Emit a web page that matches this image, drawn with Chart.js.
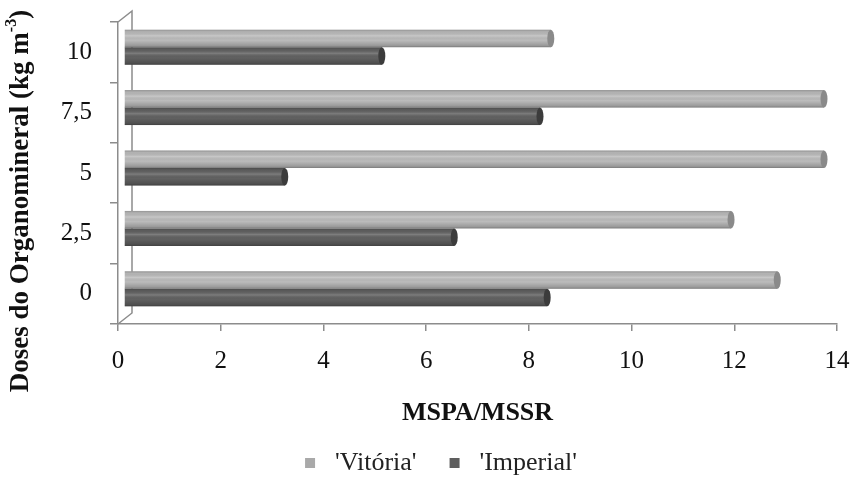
<!DOCTYPE html>
<html lang="pt">
<head>
<meta charset="UTF-8">
<title>MSPA/MSSR</title>
<script src="https://cdn.jsdelivr.net/npm/chart.js"></script>
<style>
  body { margin: 0; background: #fff; }
  #wrap { width: 853px; height: 477px; }
</style>
</head>
<body>
<div id="wrap"><canvas id="grafico" width="853" height="477"></canvas></div>
<script>
// doses de cima para baixo, como no gráfico
const doses = ['10', '7,5', '5', '2,5', '0'];
const vitoria = [8.31, 13.63, 13.63, 11.82, 12.72];
const imperial = [5.02, 8.10, 3.13, 6.43, 8.24];
const xMin = 0, xMax = 14, xStep = 2;
const tituloY = ['Doses do Organomineral (kg m', '-3', ')'];

const fonte = 'Liberation Serif';
const corVitoria = '#bcbcbc', corImperial = '#616161';

// quadradinho da legenda com folga à esquerda
function marcador(cor) {
  const c = document.createElement('canvas');
  c.width = 32; c.height = 10;
  const g = c.getContext('2d');
  g.fillStyle = cor;
  g.fillRect(15, 0, 10, 10);
  return c;
}
const marcadores = [marcador('#a9a9a9'), marcador('#5e5e5e')];

// parede de fundo + aspecto de cilindro
const efeito3d = {
  id: 'efeito3d',
  beforeDatasetsDraw(chart) {
    const ctx = chart.ctx, a = chart.chartArea;
    ctx.save();
    ctx.strokeStyle = '#8c8c8c';
    ctx.lineWidth = 1.5;
    ctx.beginPath();
    ctx.moveTo(a.left, a.top);
    ctx.lineTo(a.left + 14, a.top - 11);
    ctx.lineTo(a.left + 14, a.bottom - 11);
    ctx.lineTo(a.left, a.bottom);
    ctx.stroke();
    ctx.restore();
    ctx.save();
    ctx.translate(6, -5);
  },
  afterDatasetsDraw(chart) {
    const ctx = chart.ctx;
    chart.data.datasets.forEach((ds, i) => {
      chart.getDatasetMeta(i).data.forEach(bar => {
        const h = bar.height, top = bar.y - h / 2;
        const g = ctx.createLinearGradient(0, top, 0, top + h);
        g.addColorStop(0, 'rgba(0,0,0,0.22)');
        g.addColorStop(0.12, 'rgba(0,0,0,0.05)');
        g.addColorStop(0.35, 'rgba(255,255,255,0.18)');
        g.addColorStop(0.6, 'rgba(0,0,0,0)');
        g.addColorStop(0.9, 'rgba(0,0,0,0.18)');
        g.addColorStop(1, 'rgba(0,0,0,0.35)');
        ctx.fillStyle = g;
        ctx.fillRect(bar.base, top, bar.x - bar.base, h);
        ctx.beginPath();
        ctx.ellipse(bar.x, bar.y, 3.5, h / 2, 0, 0, Math.PI * 2);
        ctx.fillStyle = ds.capColor;
        ctx.fill();
      });
    });
    ctx.restore();
  }
};

// título do eixo y com expoente
const tituloEixoY = {
  id: 'tituloEixoY',
  afterDraw(chart) {
    const ctx = chart.ctx;
    const grande = 'bold 27px "' + fonte + '"';
    const pequeno = 'bold 16px "' + fonte + '"';
    ctx.save();
    ctx.font = grande;
    const w0 = ctx.measureText(tituloY[0]).width;
    const w2 = ctx.measureText(tituloY[2]).width;
    ctx.font = pequeno;
    const w1 = ctx.measureText(tituloY[1]).width;
    const total = w0 + w1 + w2;
    ctx.translate(21, 201);
    ctx.rotate(-Math.PI / 2);
    ctx.fillStyle = '#111';
    ctx.textBaseline = 'middle';
    let x = -total / 2;
    ctx.font = grande;
    ctx.fillText(tituloY[0], x, 0);
    x += w0;
    ctx.font = pequeno;
    ctx.fillText(tituloY[1], x, -9);
    x += w1;
    ctx.font = grande;
    ctx.fillText(tituloY[2], x, 0);
    ctx.restore();
  }
};

new Chart(document.getElementById('grafico'), {
  type: 'bar',
  data: {
    labels: doses,
    datasets: [
      { label: "'Vitória'", data: vitoria, backgroundColor: corVitoria, capColor: '#8a8a8a' },
      { label: "'Imperial'", data: imperial, backgroundColor: corImperial, capColor: '#3c3c3c' }
    ]
  },
  options: {
    indexAxis: 'y',
    responsive: false,
    animation: false,
    categoryPercentage: 0.58,
    barPercentage: 1,
    layout: { padding: { left: 30, right: 16, top: 22, bottom: -9 } },
    plugins: {
      tooltip: { enabled: false },
      legend: {
        position: 'bottom',
        labels: {
          usePointStyle: true, pointStyleWidth: 32, boxHeight: 10, padding: 18,
          color: '#222',
          font: { family: fonte, size: 26 },
          generateLabels(chart) {
            const itens = Chart.defaults.plugins.legend.labels.generateLabels(chart);
            itens.forEach((it, i) => { it.pointStyle = marcadores[i]; });
            return itens;
          }
        }
      }
    },
    scales: {
      x: {
        min: xMin, max: xMax,
        ticks: { stepSize: xStep, color: '#111', padding: 15, font: { family: fonte, size: 25 } },
        grid: { drawOnChartArea: false, color: '#8c8c8c', tickLength: 7, lineWidth: 1.5 },
        border: { color: '#8c8c8c', width: 1.5 },
        title: {
          display: true, text: 'MSPA/MSSR', color: '#111',
          font: { family: fonte, size: 26, weight: 'bold' },
          padding: { top: 0, bottom: 3 }
        },
        afterFit(scale) {
          scale.height = 108;
          scale.paddingLeft = 0;
          scale.paddingRight = 0;
        }
      },
      y: {
        ticks: { color: '#111', padding: 18, font: { family: fonte, size: 25 } },
        grid: { drawOnChartArea: false, color: '#8c8c8c', tickLength: 8, lineWidth: 1.5 },
        border: { color: '#8c8c8c', width: 1.5 },
        afterFit(scale) {
          scale.width = 88;
          scale.paddingTop = 0;
          scale.paddingBottom = 0;
        }
      }
    }
  },
  plugins: [efeito3d, tituloEixoY]
});
</script>
</body>
</html>
